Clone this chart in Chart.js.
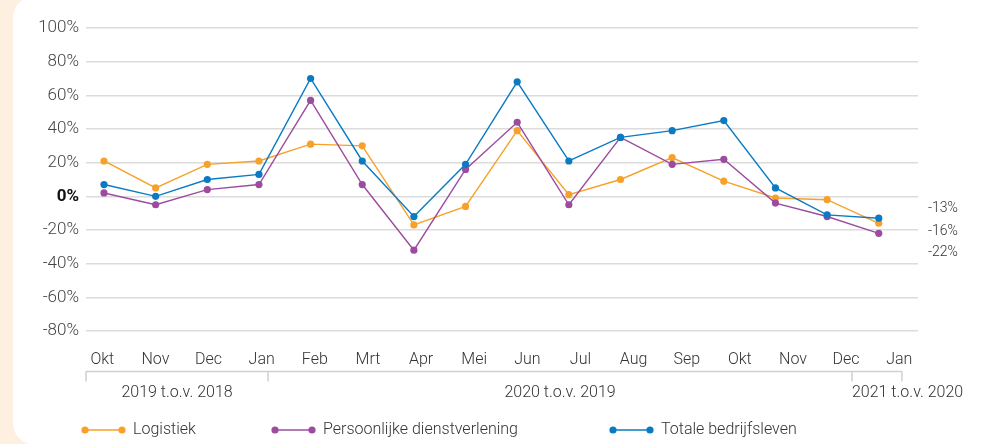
<!DOCTYPE html>
<html>
<head>
    <title>Omzetontwikkeling</title>
    <style>
        body { margin: 0; background: #fdf0e1; width: 989px; height: 444px; overflow: hidden; position: relative; font-family: Roboto, 'Noto Sans', sans-serif; }
        .card {
            position: absolute;
            left: 13px; top: -4px;
            width: 992px; height: 449px;
            background: #fff;
            border-radius: 22px;
        }
        .chart-wrapper { position: absolute; left: 0; top: 0; width: 989px; height: 444px; }
    </style>
</head>
<body>
<div class="card"></div>
<div class="chart-wrapper">
    <canvas id="lineChart"></canvas>
</div>

<script src="https://cdn.jsdelivr.net/npm/chart.js"></script>
<script>
    // months shown on the axis
    const months = ['Okt', 'Nov', 'Dec', 'Jan', 'Feb', 'Mrt', 'Apr', 'Mei', 'Jun', 'Jul', 'Aug', 'Sep', 'Okt', 'Nov', 'Dec', 'Jan'];
    const groups = ['2019 t.o.v. 2018', '2020 t.o.v. 2019', '2021 t.o.v. 2020'];
    const seriesNames = ['Logistiek', 'Persoonlijke dienstverlening', 'Totale bedrijfsleven'];

    // % change compared to the same month a year earlier
    const logistiek = [21, 5, 19, 21, 31, 30, -17, -6, 39, 1, 10, 23, 9, -1, -2, -16];
    const persoonlijk = [2, -5, 4, 7, 57, 7, -32, 16, 44, -5, 35, 19, 22, -4, -12, -22];
    const totaal = [7, 0, 10, 13, 70, 21, -12, 19, 68, 21, 35, 39, 45, 5, -11, -13];

    const yTicks = [-80, -60, -40, -20, 0, 20, 40, 60, 80, 100];

    const colors = ['#f7a12a', '#9c4c9e', '#0a7bc3'];
    const FONT = 'Roboto, "Noto Sans", sans-serif';

    function toPoints(arr) {
        return arr.map((v, i) => ({ x: i, y: v }));
    }

    const isZero = ctx => !!(ctx.tick && ctx.tick.value === 0);

    const extras = {
        id: 'extras',
        afterDraw(chart) {
            const ctx = chart.ctx;
            const area = chart.chartArea;
            const xl = chart.scales.xl;
            const y = chart.scales.y;
            ctx.save();

            // group brackets under the months
            const bounds = [area.left, xl.getPixelForValue(3.12), xl.getPixelForValue(14.11), xl.getPixelForValue(15.05)];
            const lineY = 371.5;
            ctx.strokeStyle = '#d0d0d0';
            ctx.lineWidth = 1.5;
            ctx.beginPath();
            ctx.moveTo(bounds[0], lineY);
            ctx.lineTo(bounds[3], lineY);
            bounds.forEach(b => {
                ctx.moveTo(b, lineY);
                ctx.lineTo(b, lineY + 10);
            });
            ctx.stroke();

            ctx.fillStyle = '#333';
            ctx.font = '300 16px ' + FONT;
            ctx.textBaseline = 'middle';
            ctx.textAlign = 'center';
            ctx.fillText(groups[0], (bounds[0] + bounds[1]) / 2, 393);
            ctx.fillText(groups[1], (bounds[1] + bounds[2]) / 2, 393);
            ctx.textAlign = 'left';
            ctx.fillText(groups[2], bounds[2], 393);

            // last values on the right
            const last = [logistiek, persoonlijk, totaal].map(a => a[a.length - 1]).sort((a, b) => b - a);
            const zero = y.getPixelForValue(0);
            const offs = [12, 35, 56];
            ctx.font = '300 14px ' + FONT;
            last.forEach((v, i) => {
                ctx.fillText(v + '%', 928, zero + offs[i]);
            });

            // legend
            const legX = [85, 275, 613];
            const legY = 430;
            ctx.font = '300 16px ' + FONT;
            seriesNames.forEach((name, i) => {
                const x0 = legX[i];
                ctx.strokeStyle = colors[i];
                ctx.fillStyle = colors[i];
                ctx.lineWidth = 1.4;
                ctx.beginPath();
                ctx.moveTo(x0, legY);
                ctx.lineTo(x0 + 37, legY);
                ctx.stroke();
                [x0, x0 + 37].forEach(px => {
                    ctx.beginPath();
                    ctx.arc(px, legY, 3.6, 0, Math.PI * 2);
                    ctx.fill();
                });
                ctx.fillStyle = '#333';
                ctx.fillText(name, x0 + 48, legY);
            });
            ctx.restore();
        }
    };

    const seriesData = [logistiek, persoonlijk, totaal];

    new Chart(document.getElementById('lineChart'), {
        type: 'line',
        data: {
            datasets: seriesData.map((arr, i) => ({
                label: seriesNames[i],
                data: toPoints(arr),
                borderColor: colors[i],
                backgroundColor: colors[i],
                borderWidth: 1.4,
                pointRadius: 3.6,
                pointBorderWidth: 0,
                tension: 0,
                xAxisID: 'x',
                yAxisID: 'y',
                order: 3 - i
            }))
        },
        options: {
            responsive: true,
            maintainAspectRatio: false,
            animation: false,
            layout: { padding: { left: 0, right: 71, top: 28, bottom: 0 } },
            plugins: { legend: { display: false }, tooltip: { enabled: false } },
            scales: {
                x: {
                    type: 'linear',
                    min: -0.3485,
                    max: 15.76,
                    display: false
                },
                xl: {
                    type: 'linear',
                    position: 'bottom',
                    min: -0.307,
                    max: 15.353,
                    grid: { display: false, drawTicks: false },
                    border: { display: false },
                    afterBuildTicks: scale => { scale.ticks = months.map((m, i) => ({ value: i })); },
                    afterFit: scale => { scale.height = 113; },
                    ticks: {
                        autoSkip: false,
                        maxRotation: 0,
                        padding: 19,
                        color: '#333',
                        font: { family: FONT, size: 16, weight: '300' },
                        callback: v => months[v]
                    }
                },
                y: {
                    min: -80,
                    max: 100,
                    afterBuildTicks: scale => { scale.ticks = yTicks.map(v => ({ value: v })); },
                    afterFit: scale => { scale.width = 86; },
                    grid: { color: '#dcdcdc', lineWidth: 1.6, drawTicks: false },
                    border: { display: false },
                    ticks: {
                        padding: 7,
                        color: ctx => isZero(ctx) ? '#111' : '#444',
                        font: ctx => isZero(ctx)
                            ? { family: FONT, size: 17, weight: 'bold' }
                            : { family: FONT, size: 17, weight: '300' },
                        callback: v => v + '%'
                    }
                }
            }
        },
        plugins: [extras]
    });
</script>
</body>
</html>
